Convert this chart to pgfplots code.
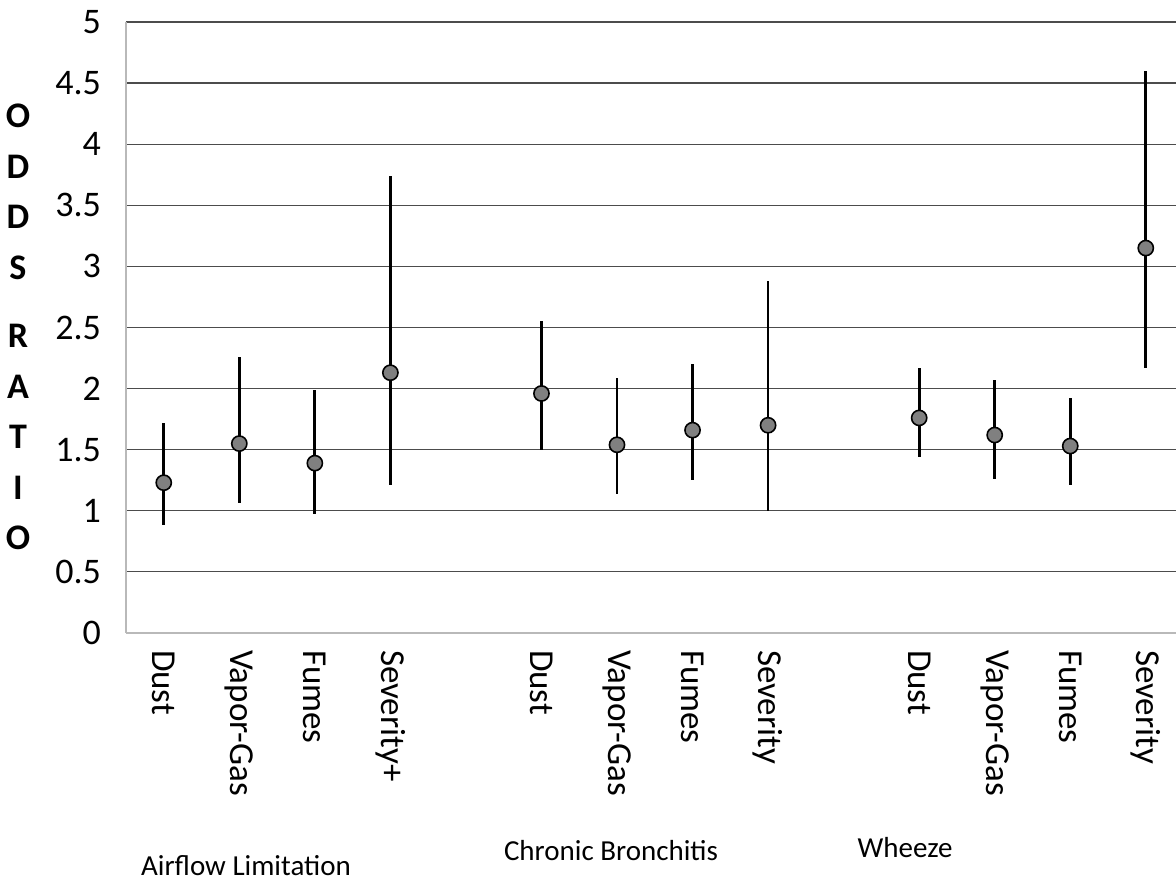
\documentclass[border=0pt]{standalone}
\usepackage{pgfplots}
\pgfplotsset{compat=1.18}
\usepackage{pgfplotstable}
\usepackage{fontspec}
\setmainfont{Carlito}
\definecolor{markgray}{RGB}{128,128,128}
\pgfplotstableread{
k y lo hi
0 1.23 0.88 1.72
1 1.55 1.06 2.26
2 1.39 0.97 1.99
3 2.13 1.21 3.74
5 1.96 1.50 2.55
6 1.54 1.14 2.09
7 1.66 1.25 2.20
8 1.70 1.00 2.88
10 1.76 1.44 2.17
11 1.62 1.26 2.07
12 1.53 1.21 1.92
13 3.15 2.17 4.60
}\ordata
\begin{document}
\begin{tikzpicture}[font=\fontsize{14.5}{17}\selectfont]
\begin{axis}[
  at={(0,0)}, anchor=south west,
  scale only axis, width=525pt, height=305.5pt,
  xmin=-0.5, xmax=13.4, ymin=0, ymax=5,
  ytick={0,0.5,1,1.5,2,2.5,3,3.5,4,4.5,5},
  yticklabels={0,0.5,1,1.5,2,2.5,3,3.5,4,4.5,5},
  ymajorgrids, grid style={black!70, line width=0.6pt},
  axis x line*=bottom, axis y line*=left,
  axis line style={gray!55, line width=0.8pt, -},
  major tick length=0,
  xtick={0,1,2,3,5,6,7,8,10,11,12,13},
  xticklabels={Dust,Vapor-Gas,Fumes,Severity+,Dust,Vapor-Gas,Fumes,Severity,Dust,Vapor-Gas,Fumes,Severity},
  xticklabel style={font=\fontsize{17.5}{20}\selectfont, rotate=-90, anchor=west, xshift=5pt},
  yticklabel style={font=\fontsize{18}{20}\selectfont, anchor=east, xshift=-9pt},
  clip=false,
]
\addplot[only marks, mark=*, mark size=3.8pt,
  mark options={fill=markgray, draw=black, line width=0.8pt},
  error bars/.cd, y dir=both, y explicit,
  error bar style={line width=1.4pt, black}, error mark=none]
  table[x=k, y=y, y error plus expr=\thisrow{hi}-\thisrow{y}, y error minus expr=\thisrow{y}-\thisrow{lo}] {\ordata};
\end{axis}
\node[font=\fontsize{18}{25.25}\selectfont\bfseries, align=center] at (-54pt,153pt) {O\\D\\D\\S\\[9pt]R\\A\\T\\I\\O};
\node at (60pt,-116.5pt) {Airflow Limitation};
\node at (242.5pt,-109pt) {Chronic Bronchitis};
\node at (389.5pt,-107.5pt) {Wheeze};
\pgfresetboundingbox
\useasboundingbox (-63pt,-126.5pt) rectangle (525pt,316.5pt);
\end{tikzpicture}
\end{document}
